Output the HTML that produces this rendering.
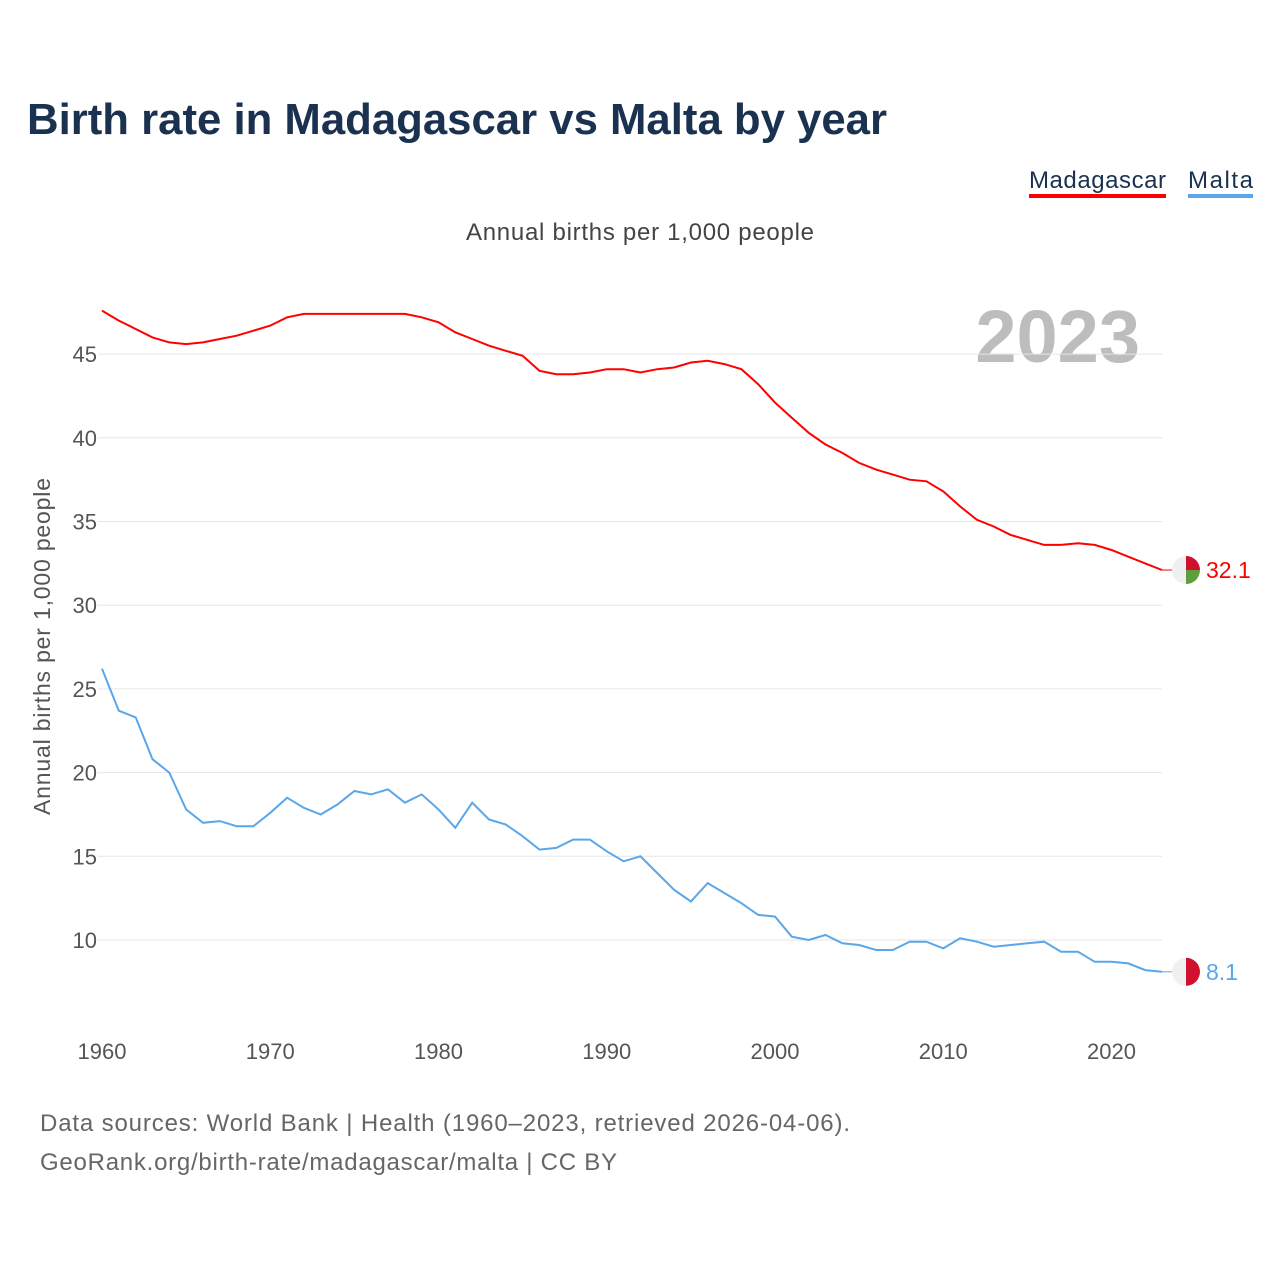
<!DOCTYPE html>
<html><head><meta charset="utf-8"><style>
body{margin:0;background:#fff;width:1280px;height:1280px;overflow:hidden;font-family:"Liberation Sans",sans-serif}
svg text{font-family:"Liberation Sans",sans-serif}
</style></head><body>
<svg id="c" width="1280" height="1280">
<text x="27" y="134" font-size="44" font-weight="bold" fill="#1a3150" textLength="860" lengthAdjust="spacingAndGlyphs">Birth rate in Madagascar vs Malta by year</text>
<g><text x="1029" y="188" font-size="24" fill="#1a3150" textLength="137">Madagascar</text><rect x="1029" y="194" width="137" height="4" fill="#ff0000"/></g>
<g><text x="1188" y="188" font-size="24" fill="#1a3150" textLength="65">Malta</text><rect x="1188" y="194" width="65" height="4" fill="#5aa6e8"/></g>
<text x="466" y="240" font-size="24" fill="#444" textLength="348">Annual births per 1,000 people</text>
<text transform="translate(50,815) rotate(-90)" font-size="23" fill="#555" textLength="337">Annual births per 1,000 people</text>
<text x="1140" y="362" font-size="74" font-weight="bold" fill="#bdbdbd" text-anchor="end">2023</text>
<g id="grid"></g><g id="lines"></g>
<text x="40" y="1131" font-size="24" fill="#666" textLength="810">Data sources: World Bank | Health (1960–2023, retrieved 2026-04-06).</text>
<text x="40" y="1170" font-size="24" fill="#666" textLength="577">GeoRank.org/birth-rate/madagascar/malta | CC BY</text>
</svg>
<script>
const years=[];for(let y=1960;y<=2023;y++)years.push(y);
const madagascar=[47.6,47.0,46.5,46.0,45.7,45.6,45.7,45.9,46.1,46.4,46.7,47.2,47.4,47.4,47.4,47.4,47.4,47.4,47.4,47.2,46.9,46.3,45.9,45.5,45.2,44.9,44.0,43.8,43.8,43.9,44.1,44.1,43.9,44.1,44.2,44.5,44.6,44.4,44.1,43.2,42.1,41.2,40.3,39.6,39.1,38.5,38.1,37.8,37.5,37.4,36.8,35.9,35.1,34.7,34.2,33.9,33.6,33.6,33.7,33.6,33.3,32.9,32.5,32.1];
const malta=[26.2,23.7,23.3,20.8,20.0,17.8,17.0,17.1,16.8,16.8,17.6,18.5,17.9,17.5,18.1,18.9,18.7,19.0,18.2,18.7,17.8,16.7,18.2,17.2,16.9,16.2,15.4,15.5,16.0,16.0,15.3,14.7,15.0,14.0,13.0,12.3,13.4,12.8,12.2,11.5,11.4,10.2,10.0,10.3,9.8,9.7,9.4,9.4,9.9,9.9,9.5,10.1,9.9,9.6,9.7,9.8,9.9,9.3,9.3,8.7,8.7,8.6,8.2,8.1];
const yTicks=[10,15,20,25,30,35,40,45];
const xTicks=[1960,1970,1980,1990,2000,2010,2020];
const NS="http://www.w3.org/2000/svg";
const X=v=>102+(v-1960)*(1162-102)/63;
const Y=v=>940-(v-10)*16.74;
function mk(t,a,p){const e=document.createElementNS(NS,t);for(const k in a)e.setAttribute(k,a[k]);p.appendChild(e);return e;}
const g=document.getElementById('grid'),L=document.getElementById('lines');
yTicks.forEach(v=>{
 const l=mk('line',{x1:98,x2:1162,y1:Y(v),y2:Y(v),stroke:'#e6e6e6','stroke-width':1},g);
 
 
 const t=mk('text',{x:97,y:Y(v)+8,'font-size':22,fill:'#555','text-anchor':'end'},g);t.textContent=v;
 
 
});
xTicks.forEach(v=>{
 const t=mk('text',{x:X(v),y:1059,'font-size':22,fill:'#555','text-anchor':'middle'},g);t.textContent=v;
 
 
});
function line(d,c,n){
 const p=mk('path',{d:d.map((v,i)=>(i?'L':'M')+X(years[i]).toFixed(1)+' '+Y(v).toFixed(1)).join(''),fill:'none',stroke:c,'stroke-width':2},L);
 
 
}
line(madagascar,'#ff0000','madagascar');line(malta,'#5aa6e8','malta');
function end(d,c,n,flag){
 const v=d[d.length-1],y=Y(v),x=1186;
 mk('line',{x1:X(2023),x2:x-14,y1:y,y2:y,stroke:c,'stroke-width':1},L);
 const f=mk('g',{},L);
 
 
 mk('circle',{cx:x,cy:y,r:14,fill:'#f0f0f0'},f);
 if(flag==='mg'){mk('path',{d:`M${x} ${y-14}A14 14 0 0 1 ${x+14} ${y}L${x} ${y}Z`,fill:'#d0102c'},f);mk('path',{d:`M${x} ${y+14}A14 14 0 0 0 ${x+14} ${y}L${x} ${y}Z`,fill:'#5e9e3c'},f);}
 else mk('path',{d:`M${x} ${y-14}A14 14 0 0 1 ${x} ${y+14}Z`,fill:'#d0102c'},f);
 const t=mk('text',{x:1206,y:y+8,'font-size':23,fill:c},L);t.textContent=v.toFixed(1);
 
 
}
end(madagascar,'#ff0000','madagascar','mg');end(malta,'#5aa6e8','malta','mt');
</script>
</body></html>
